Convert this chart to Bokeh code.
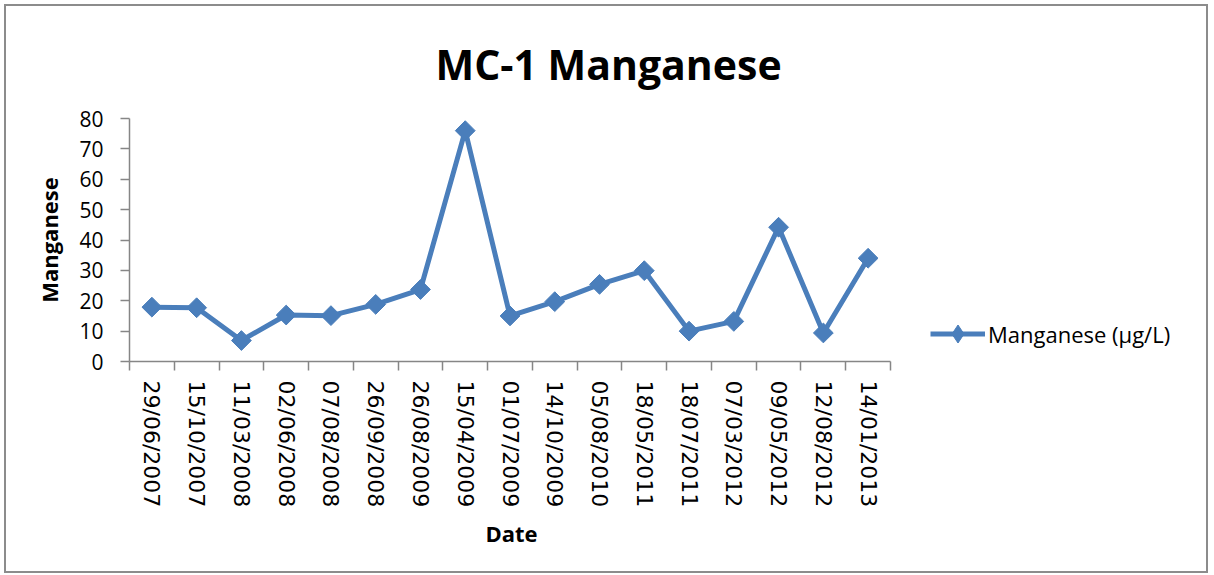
import numpy as np
from bokeh.plotting import figure
from bokeh.models import (FixedTicker, Range1d, Legend, LegendItem,
                          ColumnDataSource, Title)
from bokeh.embed import file_html
from bokeh.resources import INLINE

dates = ["29/06/2007", "15/10/2007", "11/03/2008", "02/06/2008", "07/08/2008",
         "26/09/2008", "26/08/2009", "15/04/2009", "01/07/2009", "14/10/2009",
         "05/08/2010", "18/05/2011", "18/07/2011", "07/03/2012", "09/05/2012",
         "12/08/2012", "14/01/2013"]
manganese = [17.9, 17.7, 6.9, 15.3, 15.1, 18.8, 23.7, 76.0, 15.0, 19.7,
             25.4, 29.9, 10.0, 13.2, 44.2, 9.4, 34.0]
y_ticks = [0, 10, 20, 30, 40, 50, 60, 70, 80]
series_name = "Manganese (µg/L)"
chart_title = "MC-1 Manganese"

n = len(dates)
xs = np.arange(n) + 0.5
src = ColumnDataSource(dict(x=xs, y=manganese))

BLUE = "#4a7ebb"
GRAY = "#868686"

# layout (pixels)
FIG_W, FIG_H = 1200, 565
B_LEFT, B_RIGHT, B_TOP, B_BOTTOM = 123, 12, 112, 210
DATA_W = 761                      # width of the category axis
FRAME_W = FIG_W - B_LEFT - B_RIGHT
x_end = n * FRAME_W / DATA_W      # frame extends right so the legend fits

p = figure(width=FIG_W, height=FIG_H, output_backend="svg", toolbar_location=None,
           x_range=Range1d(0, x_end), y_range=Range1d(0, 80),
           min_border_left=B_LEFT, min_border_right=B_RIGHT,
           min_border_top=B_TOP, min_border_bottom=B_BOTTOM)
p.styles = {"margin-left": "6px", "margin-top": "6px",
            "outline": "2px solid #8c8c8c"}
p.outline_line_color = None
p.xgrid.grid_line_color = None
p.ygrid.grid_line_color = None
p.background_fill_color = "white"
p.border_fill_color = "white"

p.title.text = chart_title
p.title.text_font = "Open Sans"
p.title.text_font_style = "bold"
p.title.text_font_size = "41px"
p.title.align = "left"
p.title.offset = 306
p.title.standoff = 54
p.title.text_color = "black"

ln = p.line("x", "y", source=src, line_color=BLUE, line_width=5)
mk = p.scatter("x", "y", source=src, marker="square", size=14, angle=np.pi / 4,
               fill_color=BLUE, line_color=BLUE)
leg_mk = p.scatter(x=[np.nan], y=[np.nan], marker="diamond", size=18,
                   fill_color=BLUE, line_color=BLUE)

# x axis
xa = p.xaxis[0]
xa.bounds = (0, n)
xa.ticker = FixedTicker(ticks=list(xs), minor_ticks=list(range(n + 1)))
xa.major_label_overrides = {float(x): d for x, d in zip(xs, dates)}
xa.major_label_orientation = "vertical"
xa.major_tick_out = 0
xa.major_tick_in = 0
xa.minor_tick_out = 9
xa.minor_tick_in = 0
xa.minor_tick_line_color = GRAY
xa.minor_tick_line_width = 1.5
xa.axis_line_color = GRAY
xa.axis_line_width = 1.5
xa.major_label_text_font = "DejaVu Sans"
xa.major_label_text_font_size = "22px"
xa.major_label_text_color = "black"
xa.major_label_standoff = 10

p.add_layout(Title(text="Date", align="left", offset=356, standoff=10,
                   text_font="Open Sans", text_font_style="bold",
                   text_font_size="22px", text_color="black"), "below")

# y axis
ya = p.yaxis[0]
ya.ticker = FixedTicker(ticks=y_ticks)
ya.major_tick_out = 9
ya.major_tick_in = 0
ya.minor_tick_line_color = None
ya.major_tick_line_color = GRAY
ya.major_tick_line_width = 1.5
ya.axis_line_color = GRAY
ya.axis_line_width = 1.5
ya.major_label_text_font = "Open Sans"
ya.major_label_text_font_size = "21px"
ya.major_label_text_color = "black"
ya.major_label_standoff = 17
ya.axis_label = "Manganese"
ya.axis_label_text_font = "Open Sans"
ya.axis_label_text_font_style = "bold"
ya.axis_label_text_font_size = "22px"
ya.axis_label_standoff = 12
ya.axis_label_text_color = "black"

legend = Legend(items=[LegendItem(label=series_name, renderers=[ln, leg_mk])],
                location=(801, 5), orientation="vertical",
                glyph_width=55, glyph_height=45, label_standoff=3,
                padding=0, margin=0, border_line_color=None,
                background_fill_alpha=0,
                label_text_font="Open Sans", label_text_font_size="22px",
                label_text_color="black")
p.add_layout(legend)

open("out.html", "w").write(file_html(p, INLINE))
